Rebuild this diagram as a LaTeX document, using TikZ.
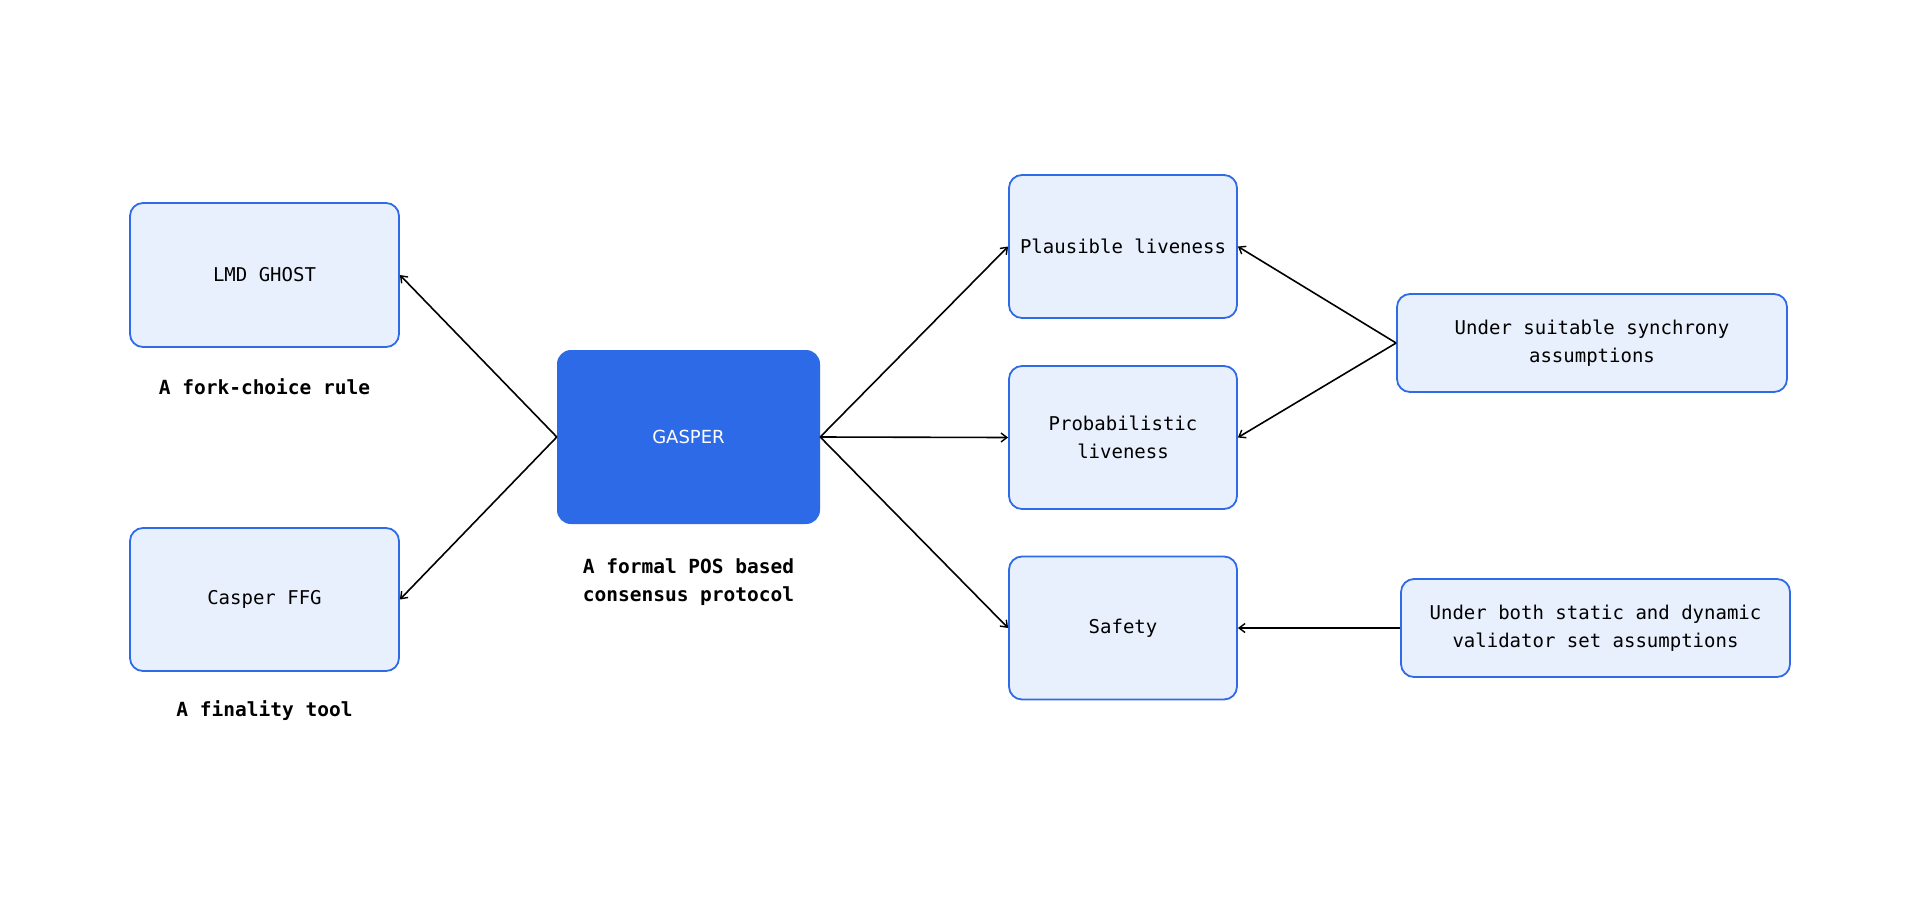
\documentclass[tikz,border=0pt]{standalone}
\usepackage{fontspec}
\setmainfont{DejaVu Sans}
\setmonofont{DejaVu Sans Mono}
\usetikzlibrary{arrows.meta}
\definecolor{boxborder}{HTML}{2F6BE6}
\definecolor{boxfill}{HTML}{E9F0FD}
\definecolor{mainfill}{HTML}{2D6AE8}
\tikzset{
  px/.style={x=1pt,y=-1pt},
  lightbox/.style={draw=boxborder, fill=boxfill, line width=1.8pt, rounded corners=13pt,
    inner sep=0pt, font=\ttfamily\fontsize{19}{28}\selectfont, align=center, text=black},
  mainbox/.style={fill=mainfill, rounded corners=14pt, inner sep=0pt,
    font=\fontsize{18}{22}\selectfont, text=white},
  caption/.style={font=\ttfamily\bfseries\fontsize{19.5}{28}\selectfont, align=center, text=black},
  conn/.style={draw=black, line width=1.6pt, -{Straight Barb[length=6pt,width=9pt,line width=1.4pt]}}
}
\begin{document}
\begin{tikzpicture}[px]
\useasboundingbox (0,0) rectangle (1920,900);
\fill[white] (0,0) rectangle (1920,900);
\node[lightbox, minimum width=269pt, minimum height=144pt] (lmd) at (264.5,275) {LMD GHOST};
\node[caption] (lmdc) at (264.5,387) {A fork-choice rule};
\node[lightbox, minimum width=269pt, minimum height=143pt] (ffg) at (264.5,599.5) {Casper FFG};
\node[caption] (ffgc) at (264.5,711) {A finality tool};
\node[mainbox, minimum width=263pt, minimum height=174pt] (gasper) at (688.5,437) {GASPER};
\node[caption] (gasperc) at (688.5,582) {A formal POS based\\consensus protocol};
\node[lightbox, minimum width=228pt, minimum height=143pt] (pl) at (1123,246.5) {Plausible liveness};
\node[lightbox, minimum width=228pt, minimum height=143pt] (pr) at (1123,437.5) {Probabilistic\\liveness};
\node[lightbox, minimum width=228pt, minimum height=143pt] (sa) at (1123,628) {Safety};
\node[lightbox, minimum width=390pt, minimum height=98pt] (sync) at (1592,343) {Under suitable synchrony\\assumptions};
\node[lightbox, minimum width=389pt, minimum height=98pt] (val) at (1595.5,628) {Under both static and dynamic\\validator set assumptions};
\draw[conn] (gasper.west) -- (lmd.east);
\draw[conn] (gasper.west) -- (ffg.east);
\draw[conn] (gasper.east) -- (pl.west);
\draw[conn] (gasper.east) -- (pr.west);
\draw[conn] (gasper.east) -- (sa.west);
\draw[conn] (sync.west) -- (pl.east);
\draw[conn] (sync.west) -- (pr.east);
\draw[conn] (val.west) -- (sa.east);
\end{tikzpicture}
\end{document}
